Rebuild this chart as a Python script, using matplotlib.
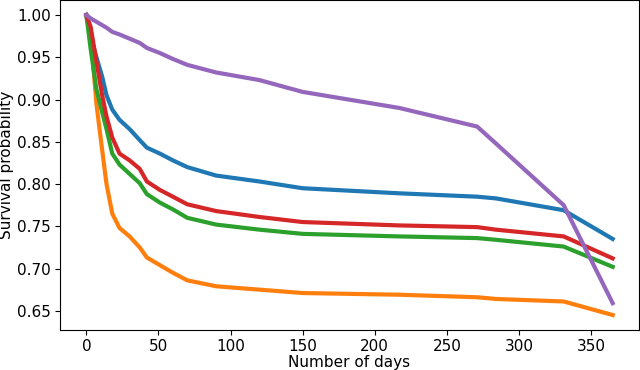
import matplotlib
matplotlib.use('Agg')
import matplotlib.pyplot as plt

# Days at which the survival curves were read
days = [0, 3, 7, 11, 14, 18, 23, 30, 37, 42, 51, 60, 70, 90, 120, 150, 217, 271, 284, 331, 365]

# Survival probability per group
surv_blue = [1.0, 0.975, 0.950, 0.927, 0.905, 0.888, 0.876, 0.865, 0.852, 0.843, 0.836, 0.828,
             0.820, 0.810, 0.803, 0.795, 0.789, 0.785, 0.783, 0.769, 0.735]
surv_orange = [1.0, 0.978, 0.895, 0.840, 0.800, 0.765, 0.748, 0.738, 0.725, 0.713, 0.704, 0.695,
               0.686, 0.679, 0.675, 0.671, 0.669, 0.666, 0.664, 0.661, 0.645]
surv_green = [1.0, 0.960, 0.912, 0.885, 0.865, 0.836, 0.823, 0.812, 0.801, 0.788, 0.778, 0.770,
              0.760, 0.752, 0.746, 0.741, 0.738, 0.736, 0.734, 0.726, 0.702]
surv_red = [1.0, 0.986, 0.945, 0.905, 0.880, 0.855, 0.836, 0.828, 0.818, 0.803, 0.793, 0.785,
            0.776, 0.768, 0.761, 0.755, 0.751, 0.749, 0.746, 0.738, 0.712]
surv_purple = [1.0, 0.996, 0.992, 0.988, 0.985, 0.980, 0.977, 0.972, 0.967, 0.961, 0.955, 0.948,
               0.941, 0.932, 0.923, 0.909, 0.890, 0.868, 0.848, 0.775, 0.659]

fig = plt.figure(figsize=(6.4, 3.7), dpi=100)
ax = fig.add_axes([60 / 640, 40 / 370, 579 / 640, 330 / 370])

for series in [surv_blue, surv_orange, surv_green, surv_red, surv_purple]:
    ax.plot(days, series, linewidth=3)

ax.set_xticks([0, 50, 100, 150, 200, 250, 300, 350])
ax.set_yticks([0.65, 0.70, 0.75, 0.80, 0.85, 0.90, 0.95, 1.00])
ax.tick_params(labelsize=11, pad=3)
ax.set_xlabel('Number of days', fontsize=11, labelpad=1)
ax.set_ylabel('Survival probability', fontsize=11, labelpad=2)

plt.savefig('out.png', dpi=100)
